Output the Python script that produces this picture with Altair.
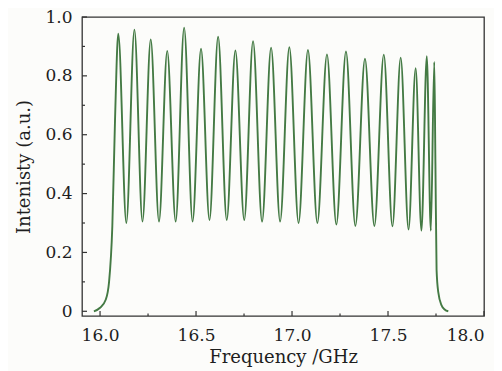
import altair as alt
import pandas as pd

# Peaks (frequency GHz, intensity)
peak_freq = [16.095, 16.179, 16.264, 16.350, 16.438, 16.526, 16.615, 16.705, 16.797, 16.891,
             16.986, 17.083, 17.182, 17.281, 17.380, 17.478, 17.566, 17.644, 17.702, 17.741]
peak_val = [0.943, 0.957, 0.924, 0.885, 0.964, 0.892, 0.933, 0.886, 0.918, 0.896,
            0.897, 0.888, 0.873, 0.883, 0.858, 0.872, 0.862, 0.826, 0.867, 0.847]

# Valleys
valley_freq = [16.137, 16.221, 16.307, 16.394, 16.482, 16.570, 16.660, 16.751, 16.844, 16.938,
               17.034, 17.132, 17.231, 17.330, 17.429, 17.523, 17.607, 17.674, 17.723]
valley_val = [0.300, 0.305, 0.305, 0.305, 0.305, 0.310, 0.310, 0.310, 0.305, 0.305,
              0.300, 0.300, 0.295, 0.290, 0.290, 0.289, 0.278, 0.274, 0.274]

# Rising and falling edges
rise_freq = [15.968, 16.000, 16.030, 16.047, 16.064, 16.078]
rise_val = [0.000, 0.012, 0.040, 0.100, 0.290, 0.650]
fall_freq = [17.747, 17.753, 17.762, 17.779, 17.795, 17.814]
fall_val = [0.500, 0.140, 0.064, 0.020, 0.006, 0.000]

# Axis ticks
x_major = [16.0, 16.5, 17.0, 17.5, 18.0]
x_minor = [16.25, 16.75, 17.25, 17.75]
y_major = [0.0, 0.2, 0.4, 0.6, 0.8, 1.0]
y_minor = [0.1, 0.3, 0.5, 0.7, 0.9]

W, H = 402, 299
XDOM = [15.906, 18.0]
YDOM = [-0.016, 1.0]

curve = pd.DataFrame({
    "f": rise_freq + peak_freq + valley_freq + fall_freq,
    "v": rise_val + peak_val + valley_val + fall_val,
}).sort_values("f").reset_index(drop=True)

FONT = "DejaVu Serif"
TXT = "#1e1e1e"

xs = alt.Scale(domain=XDOM, nice=False, zero=False)
ys = alt.Scale(domain=YDOM, nice=False, zero=False)

line = alt.Chart(curve).mark_line(
    color="#447a44", strokeWidth=1.9, interpolate="monotone", clip=True
).encode(
    x=alt.X("f:Q", scale=xs,
            axis=alt.Axis(values=x_major, format=".1f", ticks=False, domain=False, grid=False,
                          labelPadding=11, title="Frequency /GHz", titlePadding=5,
                          labelFontSize=17, titleFontSize=18, labelFont=FONT, titleFont=FONT,
                          labelColor=TXT, titleColor=TXT, titleFontWeight="normal")),
    y=alt.Y("v:Q", scale=ys,
            axis=alt.Axis(values=y_major, ticks=False, domain=False, grid=False,
                          labelExpr="datum.value == 0 ? '0' : format(datum.value, '.1f')",
                          labelPadding=10, title="Intenisty (a.u.)", titlePadding=11,
                          labelFontSize=17, titleFontSize=18, labelFont=FONT, titleFont=FONT,
                          labelColor=TXT, titleColor=TXT, titleFontWeight="normal")),
)

def xticks(vals, length):
    d = pd.DataFrame({"t": vals})
    return alt.Chart(d).mark_rule(color="#333333", strokeWidth=1.2).encode(
        x=alt.X("t:Q", scale=xs), y=alt.value(H), y2=alt.value(H - length))

def yticks(vals, length):
    d = pd.DataFrame({"t": vals})
    return alt.Chart(d).mark_rule(color="#333333", strokeWidth=1.2).encode(
        y=alt.Y("t:Q", scale=ys), x=alt.value(0), x2=alt.value(length))

chart = alt.layer(
    line,
    xticks(x_major, 5), xticks(x_minor, 2.5),
    yticks(y_major, 5), yticks(y_minor, 3),
).properties(
    width=W, height=H,
    autosize=alt.AutoSizeParams(type="none"),
    padding={"left": 74, "top": 9, "right": 10, "bottom": 55},
    background="#fcfcfa",
).configure_view(
    stroke="#333333", strokeWidth=1.3, fill="#fcfcfa"
)

chart.save("out.html", embed_options={"renderer": "svg", "actions": False})
